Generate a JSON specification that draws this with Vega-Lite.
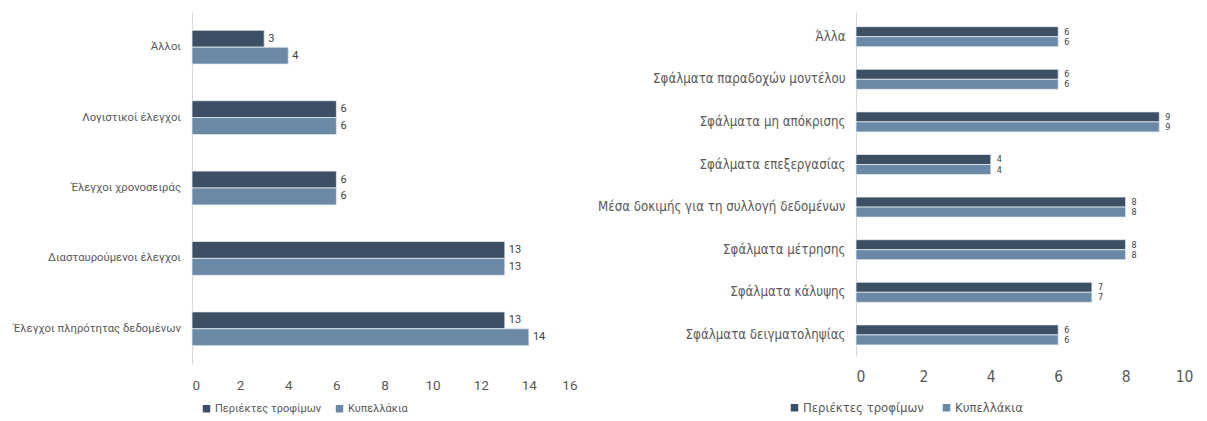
{
  "$schema": "https://vega.github.io/schema/vega-lite/v6.json",
  "background": "white",
  "padding": {"left": 12, "top": 12, "right": 5, "bottom": 0},
  "autosize": {"type": "pad"},
  "bounds": "flush",
  "spacing": 279,
  "config": {"view": {"stroke": null}, "font": "Roboto"},
  "datasets": {
    "left": [
      {"category": "Άλλοι", "series": "Περιέκτες τροφίμων", "value": 3},
      {"category": "Άλλοι", "series": "Κυπελλάκια", "value": 4},
      {"category": "Λογιστικοί έλεγχοι", "series": "Περιέκτες τροφίμων", "value": 6},
      {"category": "Λογιστικοί έλεγχοι", "series": "Κυπελλάκια", "value": 6},
      {"category": "Έλεγχοι χρονοσειράς", "series": "Περιέκτες τροφίμων", "value": 6},
      {"category": "Έλεγχοι χρονοσειράς", "series": "Κυπελλάκια", "value": 6},
      {"category": "Διασταυρούμενοι έλεγχοι", "series": "Περιέκτες τροφίμων", "value": 13},
      {"category": "Διασταυρούμενοι έλεγχοι", "series": "Κυπελλάκια", "value": 13},
      {"category": "Έλεγχοι πληρότητας δεδομένων", "series": "Περιέκτες τροφίμων", "value": 13},
      {"category": "Έλεγχοι πληρότητας δεδομένων", "series": "Κυπελλάκια", "value": 14}
    ],
    "right": [
      {"category": "Άλλα", "series": "Περιέκτες τροφίμων", "value": 6},
      {"category": "Άλλα", "series": "Κυπελλάκια", "value": 6},
      {"category": "Σφάλματα παραδοχών μοντέλου", "series": "Περιέκτες τροφίμων", "value": 6},
      {"category": "Σφάλματα παραδοχών μοντέλου", "series": "Κυπελλάκια", "value": 6},
      {"category": "Σφάλματα μη απόκρισης", "series": "Περιέκτες τροφίμων", "value": 9},
      {"category": "Σφάλματα μη απόκρισης", "series": "Κυπελλάκια", "value": 9},
      {"category": "Σφάλματα επεξεργασίας", "series": "Περιέκτες τροφίμων", "value": 4},
      {"category": "Σφάλματα επεξεργασίας", "series": "Κυπελλάκια", "value": 4},
      {"category": "Μέσα δοκιμής για τη συλλογή δεδομένων", "series": "Περιέκτες τροφίμων", "value": 8},
      {"category": "Μέσα δοκιμής για τη συλλογή δεδομένων", "series": "Κυπελλάκια", "value": 8},
      {"category": "Σφάλματα μέτρησης", "series": "Περιέκτες τροφίμων", "value": 8},
      {"category": "Σφάλματα μέτρησης", "series": "Κυπελλάκια", "value": 8},
      {"category": "Σφάλματα κάλυψης", "series": "Περιέκτες τροφίμων", "value": 7},
      {"category": "Σφάλματα κάλυψης", "series": "Κυπελλάκια", "value": 7},
      {"category": "Σφάλματα δειγματοληψίας", "series": "Περιέκτες τροφίμων", "value": 6},
      {"category": "Σφάλματα δειγματοληψίας", "series": "Κυπελλάκια", "value": 6}
    ]
  },
  "hconcat": [
    {
      "width": 385,
      "height": 352,
      "data": {"name": "left"},
      "encoding": {
        "y": {"field": "category", "type": "nominal", "sort": null,
          "scale": {"paddingInner": 0.52, "paddingOuter": 0.26},
          "axis": {"title": null, "ticks": false, "domainColor": "#d9d9d9", "domainWidth": 1, "labelColor": "#595959", "labelFontSize": 11.3, "labelPadding": 11.5, "labelFont": "Roboto", "labelLimit": 400}},
        "x": {"field": "value", "type": "quantitative", "scale": {"domain": [0, 16]},
          "axis": {"title": null, "values": [0, 2, 4, 6, 8, 10, 12, 14, 16], "grid": false, "domain": false, "ticks": false, "labelFontSize": 13.5, "labelColor": "#595959", "labelPadding": 14, "labelFont": "Roboto"}},
        "yOffset": {"field": "series", "type": "nominal", "sort": ["Περιέκτες τροφίμων", "Κυπελλάκια"]}
      },
      "layer": [
        {
          "mark": {"type": "bar", "stroke": "#e4eaf0", "strokeWidth": 0.8},
          "encoding": {
            "color": {"field": "series", "type": "nominal",
              "scale": {"domain": ["Περιέκτες τροφίμων", "Κυπελλάκια"], "range": ["#3d4f64", "#6a89a6"]},
              "legend": {"title": null, "orient": "none", "legendX": 9, "legendY": 391, "direction": "horizontal", "symbolType": "square", "symbolSize": 56, "symbolStrokeWidth": 0, "labelFontSize": 11, "labelColor": "#595959", "labelFont": "Roboto", "columnPadding": 12, "labelOffset": 3}}
          }
        },
        {
          "mark": {"type": "text", "align": "left", "baseline": "middle", "dx": 4, "fontSize": 11, "color": "#404040", "font": "Roboto"},
          "encoding": {"text": {"field": "value", "type": "quantitative"}}
        }
      ]
    },
    {
      "width": 337,
      "height": 344,
      "data": {"name": "right"},
      "encoding": {
        "y": {"field": "category", "type": "nominal", "sort": null,
          "scale": {"paddingInner": 0.53, "paddingOuter": 0.3025, "align": 0.57},
          "axis": {"title": null, "ticks": false, "domainColor": "#d9d9d9", "domainWidth": 1, "labelColor": "#595959", "labelFontSize": 13.2, "labelPadding": 11, "labelFont": "DejaVu Sans Condensed, Roboto", "labelLimit": 400}},
        "x": {"field": "value", "type": "quantitative", "scale": {"domain": [0, 10]},
          "axis": {"title": null, "values": [0, 2, 4, 6, 8, 10], "grid": false, "domain": false, "ticks": false, "labelFontSize": 15.5, "labelColor": "#595959", "labelPadding": 13, "labelFont": "DejaVu Sans Condensed, Roboto"}},
        "yOffset": {"field": "series", "type": "nominal", "sort": ["Περιέκτες τροφίμων", "Κυπελλάκια"]}
      },
      "layer": [
        {
          "mark": {"type": "bar", "stroke": "#e4eaf0", "strokeWidth": 0.8},
          "encoding": {
            "color": {"field": "series", "type": "nominal",
              "scale": {"domain": ["Περιέκτες τροφίμων", "Κυπελλάκια"], "range": ["#3d4f64", "#6a89a6"]},
              "legend": {"title": null, "orient": "none", "legendX": -68, "legendY": 389, "direction": "horizontal", "symbolType": "square", "symbolSize": 56, "symbolStrokeWidth": 0, "labelFontSize": 13, "labelColor": "#595959", "labelFont": "DejaVu Sans Condensed, Roboto", "columnPadding": 16, "labelOffset": 2}}
          }
        },
        {
          "mark": {"type": "text", "align": "left", "baseline": "middle", "dx": 6, "fontSize": 9, "color": "#404040", "font": "DejaVu Sans Condensed, Roboto"},
          "encoding": {"text": {"field": "value", "type": "quantitative"}}
        }
      ]
    }
  ],
  "resolve": {"scale": {"color": "independent", "x": "independent", "y": "independent", "yOffset": "independent"}, "legend": {"color": "independent"}}
}
